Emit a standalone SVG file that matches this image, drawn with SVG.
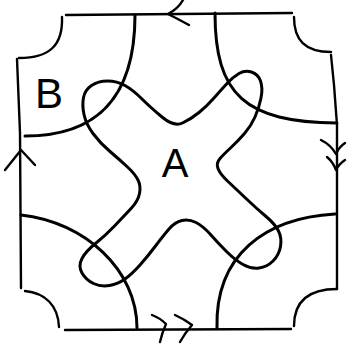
<svg xmlns="http://www.w3.org/2000/svg" width="348" height="345" viewBox="0 0 348 345">
<style>
.ln{fill:none;stroke:#000;stroke-linecap:round;stroke-linejoin:round}
.edge{stroke-width:2.4}
.cur{stroke-width:3}
.lbl{font-family:"Liberation Sans",Arial,sans-serif;fill:#000}
</style>
<rect width="348" height="345" fill="#fff"/>
<g id="boundary" class="ln edge">
<path d="M66,15 L292,13"/>
<path d="M294,17 C294,40 305,52 331,52"/>
<path d="M331,55 L334,85 L337,125 L337,289"/>
<path d="M337,289 C310,289 294,300 294,326"/>
<path d="M65,330 L291,329"/>
<path d="M25,291 C45,293 58,305 59,327"/>
<path d="M17,59 L20,133 L21,288"/>
<path d="M62,17 C63,45 50,58 19,58"/>
</g>
<g id="arrows" class="ln edge">
<path d="M183,0 Q178,9 168,14 Q178,19 189,25"/>
<path d="M321,140 Q331,145 336,154 Q339,147 345,143"/>
<path d="M327,157 Q333,162 336,170 Q339,164 345,160"/>
<path d="M5,170 L21,150 L35,165"/>
<path d="M152,315 Q160,318 166,324 Q162,333 160,342"/>
<path d="M175,315 Q184,319 192,325 Q185,333 180,342"/>
</g>
<g id="connectors" class="ln cur">
<path d="M135,15 C135,105 90,136 25,136"/>
<path d="M215,13 C215,95 245,122 337,123"/>
<path d="M21,215 C85,222 137,270 137,328"/>
<path d="M217,328 C215,255 265,218 335,214"/>
</g>
<g id="A" class="ln cur">
<path d="M182.5,123 Q174,127 162,117 Q150,107 141.5,98.5 Q133,90 125,85.5 Q117,81 107.5,81 Q98,81 91.5,85.5 Q85,90 83.5,97.5 Q82,105 84,114.5 Q86,124 93,133.5 Q100,143 110,151.5 Q120,160 127.5,167 Q135,174 138,180 Q141,186 139.5,193.5 Q138,201 131.5,208 Q125,215 115,225.5 Q105,236 95.5,243.5 Q86,251 82,258.5 Q78,266 82,273 Q86,280 93.5,283.5 Q101,287 109.5,285.5 Q118,284 125,279 Q132,274 140,265 Q148,256 155.5,246 Q163,236 169,229 Q175,222 182,220.5 Q189,219 196,222.5 Q203,226 210.5,234.5 Q218,243 226.5,251.5 Q235,260 243,264.5 Q251,269 259,268 Q267,267 273,261 Q279,255 280.5,246.5 Q282,238 278.5,231 Q275,224 265.5,216 Q256,208 246,198.5 Q236,189 228,181.5 Q220,174 218,168.5 Q216,163 220,158.5 Q224,154 231,147.5 Q238,141 244.5,133.5 Q251,126 255,117 Q259,108 261,98 Q263,88 260.5,81 Q258,74 251.5,72 Q245,70 239,73.5 Q233,77 227,83.5 Q221,90 214,98 Q207,106 199,112.5 Q191,119 182.5,123 Z"/>
<text class="lbl" x="175" y="177" font-size="40" text-anchor="middle" stroke="none">A</text>
</g>
<g id="B">
<text class="lbl" x="49" y="108" font-size="42" text-anchor="middle">B</text>
</g>
</svg>
